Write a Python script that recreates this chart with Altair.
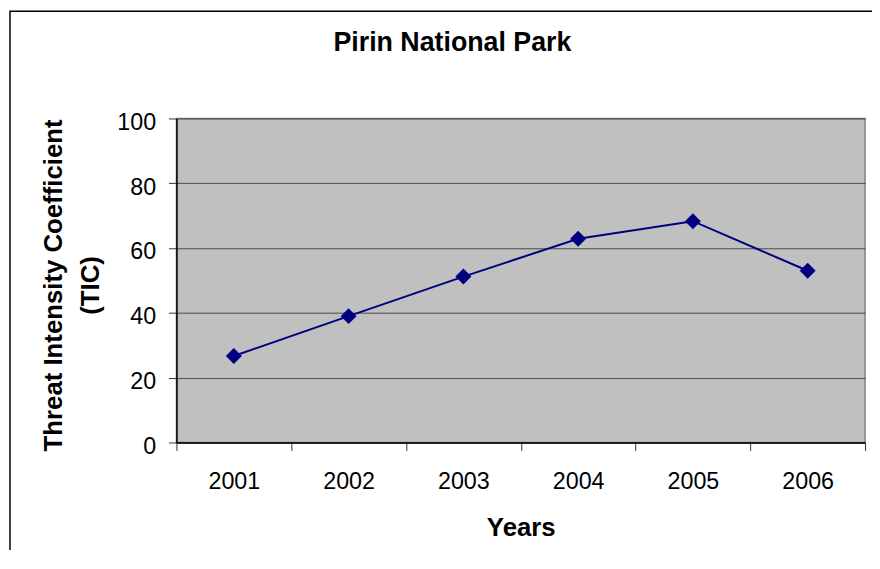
import altair as alt
import pandas as pd

years = ["2001", "2002", "2003", "2004", "2005", "2006"]
tic = [26.7, 39.0, 51.2, 62.9, 68.3, 53.0]

df = pd.DataFrame({"Year": years, "TIC": tic})

FONT = "Liberation Sans"
NAVY = "#000080"

x_enc = alt.X(
    "Year:N",
    sort=years,
    scale=alt.Scale(type="band", paddingInner=0, paddingOuter=0),
    axis=alt.Axis(
        title="Years",
        labelAngle=0,
        tickBand="extent",
        grid=False,
        labelBaseline="alphabetic",
        labelPadding=38,
        titleBaseline="alphabetic",
        titleY=94,
    ),
)
y_enc = alt.Y(
    "TIC:Q",
    scale=alt.Scale(domain=[0, 100], nice=False),
    axis=alt.Axis(
        title=["Threat Intensity Coefficient", "(TIC)"],
        values=[0, 20, 40, 60, 80, 100],
        grid=True,
        labelPadding=13,
        labelOffset=4,
        titleAngle=270,
        titleBaseline="alphabetic",
        titleX=-116,
        titleY=168,
        titleLineHeight=37,
    ),
)

line = alt.Chart(df).mark_line(
    color=NAVY,
    strokeWidth=2,
    point=alt.OverlayMarkDef(shape="diamond", size=260, filled=True, color=NAVY, opacity=1),
).encode(x=x_enc, y=y_enc)

border = alt.Chart(alt.Data(values=[{}])).mark_rect(
    fill=None, stroke="#000000", strokeWidth=1.5
).encode(
    x=alt.value(-168),
    x2=alt.value(760),
    y=alt.value(-108.2),
    y2=alt.value(520),
)

chart = alt.layer(line, border).properties(
    width=695,
    height=327,
    padding={"left": 170, "top": 109, "right": 7, "bottom": 106},
    autosize=alt.AutoSizeParams(type="none"),
    title=alt.TitleParams(
        "Pirin National Park",
        font=FONT,
        fontSize=27,
        fontWeight="bold",
        color="#000",
        anchor="middle",
        frame="group",
        dx=-69,
        dy=68,
        baseline="alphabetic",
        offset=0,
    ),
).configure(
    background="#ffffff"
).configure_view(
    fill="#C0C0C0", stroke="#808080", strokeWidth=1.5
).configure_axis(
    domainColor="#000000",
    domainWidth=1.5,
    tickColor="#333333",
    tickSize=8,
    tickWidth=1,
    labelFont=FONT,
    labelFontSize=23.5,
    labelColor="#000000",
    titleFont=FONT,
    titleFontSize=26,
    titleFontWeight="bold",
    titleColor="#000000",
    gridColor="#4a4a4a",
    gridWidth=1,
)

chart.save("out.html", embed_options={"renderer": "svg", "actions": False})
